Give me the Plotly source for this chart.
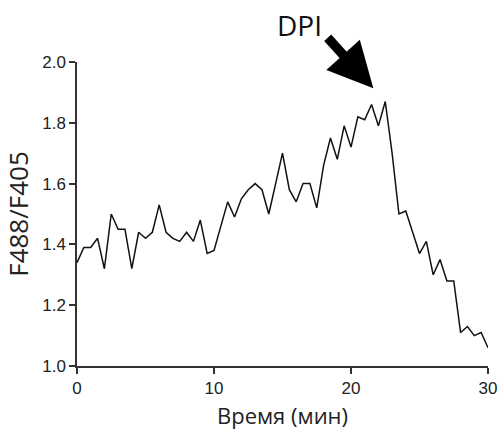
import plotly.graph_objects as go

# Time points (min) sampled every 0.5 min
time_min = [i * 0.5 for i in range(61)]

# F488/F405 fluorescence ratio
ratio = [
    1.34, 1.39, 1.39, 1.42, 1.32, 1.50, 1.45, 1.45, 1.32, 1.44,
    1.42, 1.44, 1.53, 1.44, 1.42, 1.41, 1.44, 1.41, 1.48, 1.37,
    1.38, 1.46, 1.54, 1.49, 1.55, 1.58, 1.60, 1.58, 1.50, 1.60,
    1.70, 1.58, 1.54, 1.60, 1.60, 1.52, 1.66, 1.75, 1.68, 1.79,
    1.72, 1.82, 1.81, 1.86, 1.79, 1.87, 1.70, 1.50, 1.51, 1.44,
    1.37, 1.41, 1.30, 1.35, 1.28, 1.28, 1.11, 1.13, 1.10, 1.11,
    1.06,
]

x_ticks = [0, 10, 20, 30]
y_ticks = [1.0, 1.2, 1.4, 1.6, 1.8, 2.0]

fig = go.Figure()
fig.add_trace(go.Scatter(
    x=time_min, y=ratio, mode="lines",
    line=dict(color="#111111", width=1.5),
    showlegend=False, hoverinfo="skip", cliponaxis=False,
))

axis_common = dict(
    showline=True, linecolor="#333333", linewidth=1.5,
    ticks="outside", ticklen=6, tickwidth=1.5, tickcolor="#333333",
    showgrid=False, zeroline=False, automargin=False,
    tickfont=dict(family="Liberation Sans, Arial", size=17, color="#222222"),
)

fig.update_xaxes(
    range=[0, 30], tickvals=x_ticks,
    title=dict(text="Время (мин)", standoff=12,
               font=dict(family="Open Sans", size=22, color="#222222")),
    **axis_common,
)
fig.update_yaxes(
    range=[1.0, 2.0], tickvals=y_ticks, tickformat=".1f",
    title=dict(text="F488/F405", standoff=12,
               font=dict(family="Open Sans", size=26, color="#222222")),
    **axis_common,
)

# DPI treatment marker
fig.add_annotation(
    x=21.63, y=1.9135, xref="x", yref="y",
    ax=-47, ay=-52, axref="pixel", ayref="pixel",
    text="", showarrow=True, arrowhead=2, arrowsize=0.95,
    arrowwidth=9.5, arrowcolor="#000000",
)

pw, ph = 499 - 77 - 11, 430 - 62 - 64
fig.add_annotation(
    x=(299 - 77) / pw, y=(430 - 64 - 25) / ph, xref="paper", yref="paper",
    xanchor="center", yanchor="middle",
    text="DPI", showarrow=False,
    font=dict(family="Open Sans", size=28, color="#111111"),
)

fig.update_layout(
    width=499, height=430,
    margin=dict(l=77, r=11, t=62, b=64),
    plot_bgcolor="white", paper_bgcolor="white",
)

fig.write_html("out.html")
